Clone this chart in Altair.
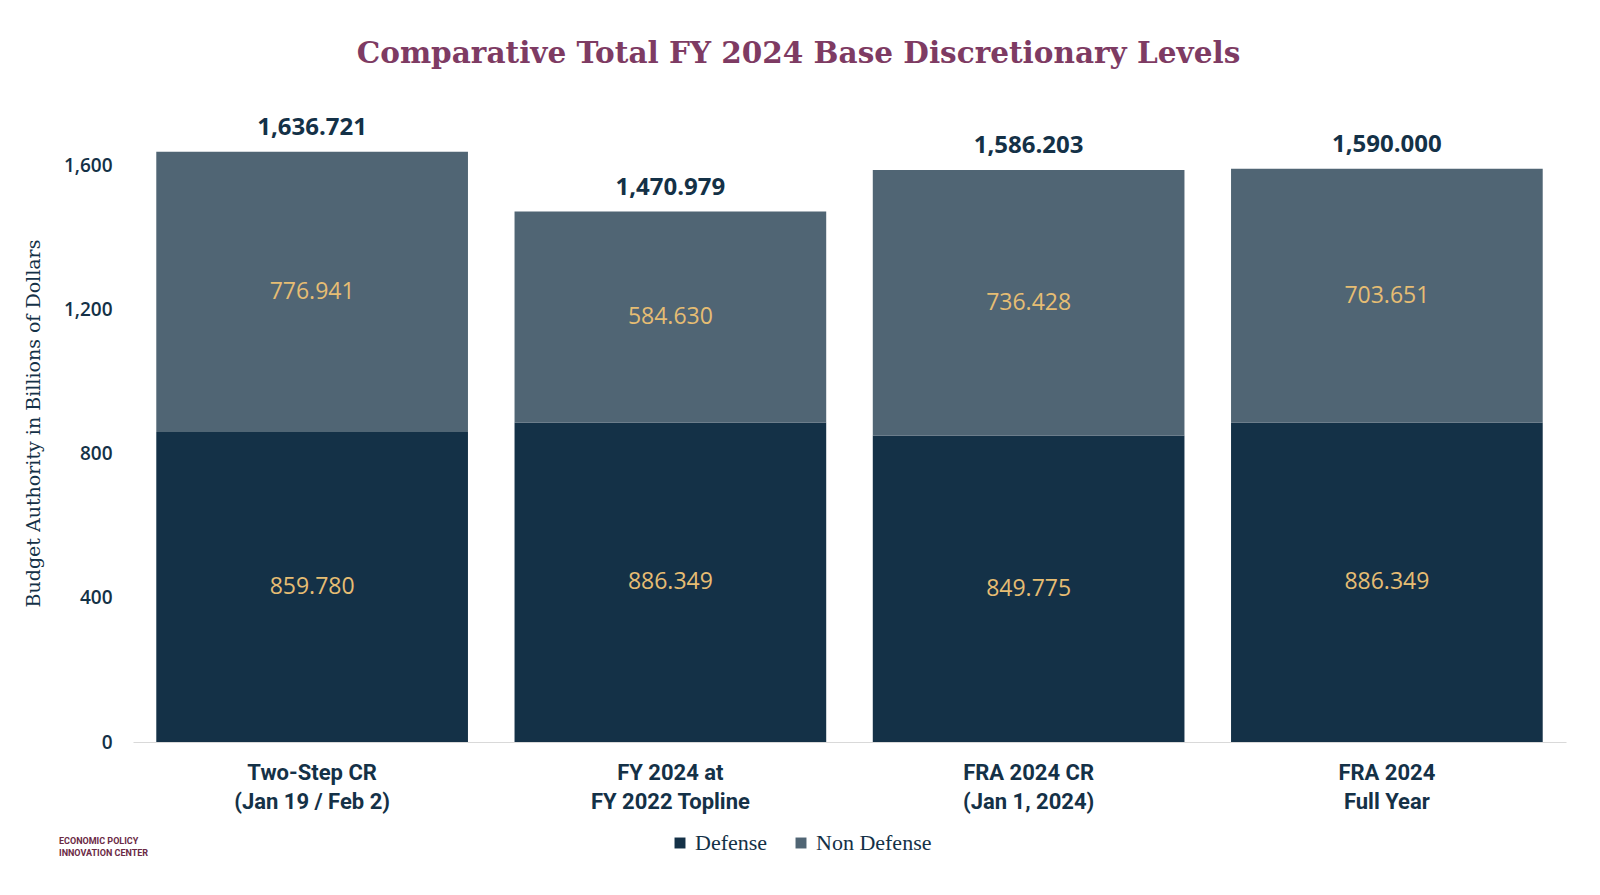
import altair as alt
import pandas as pd

categories = ["Two-Step CR|(Jan 19 / Feb 2)", "FY 2024 at|FY 2022 Topline",
              "FRA 2024 CR|(Jan 1, 2024)", "FRA 2024|Full Year"]
defense = [859.780, 886.349, 849.775, 886.349]
non_defense = [776.941, 584.630, 736.428, 703.651]
totals = [1636.721, 1470.979, 1586.203, 1590.000]
series = ["Defense", "Non Defense"]
y_ticks = [0, 400, 800, 1200, 1600]
logo_text = ["ECONOMIC POLICY\nINNOVATION CENTER"]

rows = []
for i, c in enumerate(categories):
    rows.append({"cat": c, "series": "Defense", "order": 0, "value": defense[i],
                 "mid": defense[i] / 2})
    rows.append({"cat": c, "series": "Non Defense", "order": 1, "value": non_defense[i],
                 "mid": defense[i] + non_defense[i] / 2})
df = pd.DataFrame(rows)
tot = pd.DataFrame({"cat": categories, "total": totals})

NAVY = "#143147"
SLATE = "#506574"
GOLD = "#E6BD73"
PURPLE = "#7E3B63"

xenc = alt.X("cat:N", sort=categories, title=None,
             scale=alt.Scale(paddingInner=0.13, paddingOuter=0.065),
             axis=alt.Axis(labelExpr="split(datum.label, '|')", labelAngle=0,
                           labelFont="Roboto", labelFontWeight="bold", labelFontSize=22,
                           labelColor=NAVY, labelLineHeight=29, labelPadding=20,
                           ticks=False, domainColor="#d9d9d9", domainWidth=1, grid=False))

yscale = alt.Scale(domain=[0, 1700], nice=False)

bars = alt.Chart(df).mark_bar().encode(
    x=xenc,
    y=alt.Y("value:Q", stack="zero", scale=yscale,
            title="Budget Authority in Billions of Dollars",
            axis=alt.Axis(values=y_ticks, format=",.0f", ticks=False, domain=False, grid=False,
                          labelFont="Open Sans", labelFontSize=19, labelFontWeight=600,
                          labelColor=NAVY, labelPadding=21,
                          titleFont="DejaVu Serif", titleFontSize=19, titleFontWeight="normal",
                          titleColor=NAVY, titlePadding=20, titleY=294)),
    color=alt.Color("series:N", sort=series,
                    scale=alt.Scale(domain=series, range=[NAVY, SLATE]),
                    legend=alt.Legend(title=None, orient="none", legendX=536, legendY=703,
                                      direction="horizontal", symbolType="square",
                                      symbolSize=120, symbolStrokeWidth=0,
                                      labelFont="Liberation Serif", labelFontSize=22,
                                      labelColor=NAVY, columnPadding=22, labelOffset=4)),
    order=alt.Order("order:Q"),
)

seg_labels = alt.Chart(df).mark_text(font="Open Sans", fontSize=23, color=GOLD).encode(
    x=alt.X("cat:N", sort=categories),
    y=alt.Y("mid:Q", scale=yscale),
    text=alt.Text("value:Q", format=",.3f"),
)

tot_labels = alt.Chart(tot).mark_text(font="Open Sans", fontSize=24, fontWeight="bold",
                                      color=NAVY, dy=-24).encode(
    x=alt.X("cat:N", sort=categories),
    y=alt.Y("total:Q", scale=yscale),
    text=alt.Text("total:Q", format=",.3f"),
)

logo = alt.Chart(pd.DataFrame({"t": logo_text})).mark_text(
    font="Roboto", fontSize=9, fontWeight="bold", color="#6b2a45", align="left",
    baseline="middle", lineBreak="\n", lineHeight=12
).encode(
    x=alt.value(-74),
    y=alt.value(712),
    text="t:N",
)

chart = alt.layer(bars, seg_labels, tot_labels, logo).properties(
    width=1433, height=613,
    autosize=alt.AutoSizeParams(type="none"),
    padding={"left": 125, "top": 121, "right": 20, "bottom": 140},
    title=alt.TitleParams("Comparative Total FY 2024 Base Discretionary Levels",
                          font="DejaVu Serif", fontSize=29.5, fontWeight="bold",
                          color=PURPLE, anchor="middle", dx=-51, offset=46),
).configure(background="white").configure_view(strokeWidth=0, stroke=None)

chart.save("out.html", embed_options={"renderer": "svg", "actions": False})
